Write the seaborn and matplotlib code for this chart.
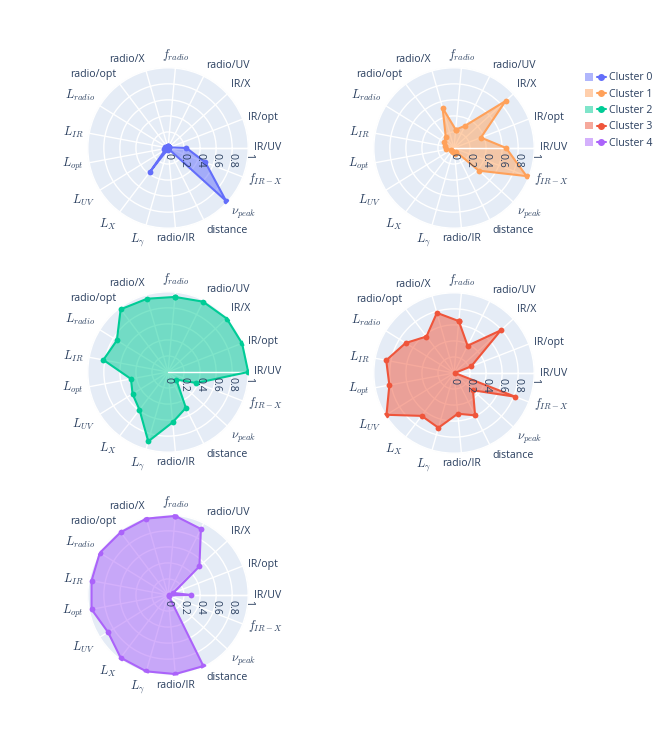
import numpy as np
import pandas as pd
import matplotlib
matplotlib.use("Agg")
import matplotlib.pyplot as plt
import matplotlib.transforms as mtransforms
from matplotlib.lines import Line2D
from matplotlib.patches import Patch
from matplotlib.legend_handler import HandlerTuple
import seaborn as sns

# categories, clockwise starting from the top
categories = [r"$f_{radio}$", "radio/UV", "IR/X", "IR/opt", "IR/UV", r"$f_{IR-X}$",
              r"$\nu_{peak}$", "distance", "radio/IR", r"$L_{\gamma}$", r"$L_{X}$",
              r"$L_{UV}$", r"$L_{opt}$", r"$L_{IR}$", r"$L_{radio}$", "radio/opt", "radio/X"]

cluster_0 = [0.02, 0.02, 0.02, 0.02, 0.23, 0.50, 0.98, 0.01, 0.01, 0.02,
             0.37, 0.04, 0.05, 0.04, 0.03, 0.02, 0.02]
cluster_1 = [0.23, 0.31, 0.87, 0.36, 0.65, 0.97, 0.42, 0.05, 0.08, 0.05,
             0.04, 0.04, 0.10, 0.12, 0.14, 0.17, 0.52]
cluster_2 = [0.94, 0.98, 0.99, 0.99, 1.00, 0.38, 0.14, 0.50, 0.63, 0.90,
             0.59, 0.52, 0.47, 0.82, 0.75, 0.98, 0.95]
cluster_3 = [0.65, 0.38, 0.79, 0.23, 0.01, 0.82, 0.32, 0.59, 0.51, 0.71,
             0.67, 0.99, 0.82, 0.86, 0.71, 0.57, 0.78]
cluster_4 = [0.99, 0.92, 0.53, 0.07, 0.29, 0.01, 0.01, 0.99, 0.99, 0.99,
             0.98, 0.88, 0.97, 0.97, 1.00, 0.98, 0.99]

cluster_names = ["Cluster 0", "Cluster 1", "Cluster 2", "Cluster 3", "Cluster 4"]
cluster_values = [cluster_0, cluster_1, cluster_2, cluster_3, cluster_4]
colors = ["#636EFA", "#FFA15A", "#00CC96", "#EF553B", "#AB63FA"]

radial_ticks = [0, 0.2, 0.4, 0.6, 0.8, 1]
radial_tick_labels = ["0", "0.2", "0.4", "0.6", "0.8", "1"]

# long form table, polygon closed by repeating first point
n = len(categories)
step = 2 * np.pi / n
thetas = ((np.arange(n) - 4) * step) % (2 * np.pi)  # IR/UV on the radial axis (east)
rows = []
for name, vals in zip(cluster_names, cluster_values):
    for i in list(range(n)) + [0]:
        rows.append({"cluster": name, "theta": thetas[i], "value": vals[i]})
df = pd.DataFrame(rows)

sns.set_style("white")
plt.rcParams["font.family"] = ["Open Sans", "DejaVu Sans"]
plt.rcParams["mathtext.fontset"] = "cm"
text_color = "#2a3f5f"
fs = 7.6

W, H = 664, 731
R = 81
RMAX = 1.01
centers = [(168, 148), (454, 148), (168, 372), (454, 373), (168, 595)]

fig = plt.figure(figsize=(W / 100, H / 100), dpi=100)

for name, color, (cx, cy) in zip(cluster_names, colors, centers):
    ax = fig.add_axes([(cx - R) / W, (H - cy - R) / H, 2 * R / W, 2 * R / H],
                      projection="polar")
    ax.set_theta_zero_location("E")
    ax.set_theta_direction(-1)
    ax.set_facecolor("#E5ECF6")

    sub = df[df["cluster"] == name]
    ax.fill(sub["theta"], sub["value"], color=color, alpha=0.5, lw=0, zorder=2)
    ax.plot([0, 0], [0, RMAX], color="white", lw=1, zorder=2.5)
    sns.lineplot(data=sub, x="theta", y="value", sort=False, estimator=None,
                 color=color, lw=1.5, marker="o", markersize=4.2,
                 markeredgewidth=0, ax=ax, zorder=3)
    ax.set_xlabel("")
    ax.set_ylabel("")

    ax.set_xlim(0, 2 * np.pi)
    ax.set_ylim(0, RMAX)
    ax.set_xticks(thetas)
    ax.set_xticklabels([])
    ax.set_yticks(radial_ticks[1:])
    ax.set_yticklabels([])
    ax.tick_params(length=0)
    ax.grid(True, color="white", lw=1)
    ax.set_axisbelow(True)
    ax.spines["polar"].set_color("white")

    # angular labels outside the circle
    for th, lbl in zip(thetas, categories):
        c, s = np.cos(th), -np.sin(th)
        ha = "left" if c > 0.15 else ("right" if c < -0.15 else "center")
        va = "bottom" if s > 0.45 else ("top" if s < -0.45 else "center")
        ax.text(th, 1.07, lbl, ha=ha, va=va, fontsize=fs + 1.2 if "$" in lbl else fs,
                color=text_color, clip_on=False)

    # radial tick labels, rotated below the radial axis
    off = mtransforms.offset_copy(ax.transData, fig=fig, y=-5, units="dots")
    for r, lbl in zip(radial_ticks, radial_tick_labels):
        ax.text(0, r, lbl, transform=off, rotation=-90, ha="center", va="top",
                fontsize=fs, color=text_color, clip_on=False)

handles = [(Patch(facecolor=c, alpha=0.5, lw=0),
            Line2D([], [], color=c, lw=1.5, marker="o", markersize=4))
           for c in colors]
fig.legend(handles, cluster_names, loc="upper left",
           bbox_to_anchor=(575 / W, 1 - 63 / H), frameon=False,
           fontsize=fs, labelcolor=text_color, handlelength=2.0,
           handletextpad=0.35, labelspacing=0.5,
           handler_map={tuple: HandlerTuple(ndivide=None)})

fig.savefig("out.png", dpi=100)
